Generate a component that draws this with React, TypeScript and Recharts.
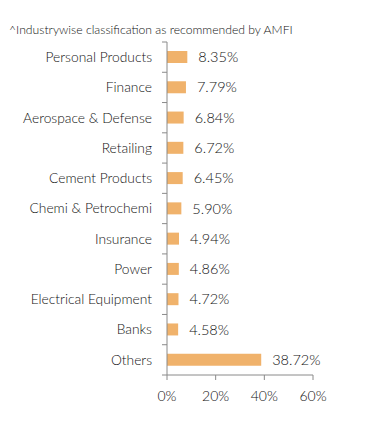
import { BarChart, Bar, XAxis, YAxis, LabelList } from "recharts"

const categories = [
  "Personal Products",
  "Finance",
  "Aerospace & Defense",
  "Retailing",
  "Cement Products",
  "Chemi & Petrochemi",
  "Insurance",
  "Power",
  "Electrical Equipment",
  "Banks",
  "Others",
]
const weights = [8.35, 7.79, 6.84, 6.72, 6.45, 5.9, 4.94, 4.86, 4.72, 4.58, 38.72]
const xTicks = [0, 20, 40, 60]

const data = categories.map((name, i) => ({ name, value: weights[i] }))

const W = 375
const H = 411
const M = { top: 34, right: 70, bottom: 14, left: 0 }
const X_AXIS_H = 30
const BAND = (H - M.top - M.bottom - X_AXIS_H) / categories.length

const FONT = "Lato, 'Open Sans', sans-serif"
const AXIS = "#8a8a8a"
const TEXT = "#111"

function CategoryTick(props: any) {
  const { x, y, payload, index } = props
  const ax = x + 15
  return (
    <g>
      <text x={x} y={y} dy="0.35em" textAnchor="end" fontSize={13.8} fontWeight={300} fill={TEXT} fontFamily={FONT}>
        {payload.value}
      </text>
      {index === 0 && <line x1={ax - 5} x2={ax} y1={y - BAND / 2} y2={y - BAND / 2} stroke={AXIS} />}
      <line x1={ax - 5} x2={ax} y1={y + BAND / 2} y2={y + BAND / 2} stroke={AXIS} />
    </g>
  )
}

export default function App() {
  return (
    <div style={{ position: "relative", width: W, height: H, fontFamily: FONT }}>
      <div style={{ position: "absolute", left: 1, top: 14, fontSize: 12.2, fontWeight: 300, color: TEXT, whiteSpace: "nowrap" }}>
        ^Industrywise classification as recommended by AMFI
      </div>
      <BarChart width={W} height={H} data={data} layout="vertical" margin={M}>
        <XAxis
          type="number"
          domain={[0, 60]}
          ticks={xTicks}
          tickFormatter={(v) => `${v}%`}
          height={X_AXIS_H}
          tickSize={5}
          tickMargin={11}
          stroke={AXIS}
          tick={{ fill: TEXT, fontSize: 14, fontWeight: 300, fontFamily: FONT }}
        />
        <YAxis
          type="category"
          dataKey="name"
          width={159}
          tickSize={5}
          tickMargin={10}
          tickLine={false}
          stroke={AXIS}
          interval={0}
          tick={<CategoryTick />}
        />
        <Bar dataKey="value" fill="#F0B26B" barSize={12} isAnimationActive={false}>
          <LabelList
            dataKey="value"
            position="right"
            offset={11}
            formatter={(v: any) => `${Number(v).toFixed(2)}%`}
            fill={TEXT}
            fontSize={14.5}
            fontWeight={300}
            fontFamily={FONT}
          />
        </Bar>
      </BarChart>
    </div>
  )
}
